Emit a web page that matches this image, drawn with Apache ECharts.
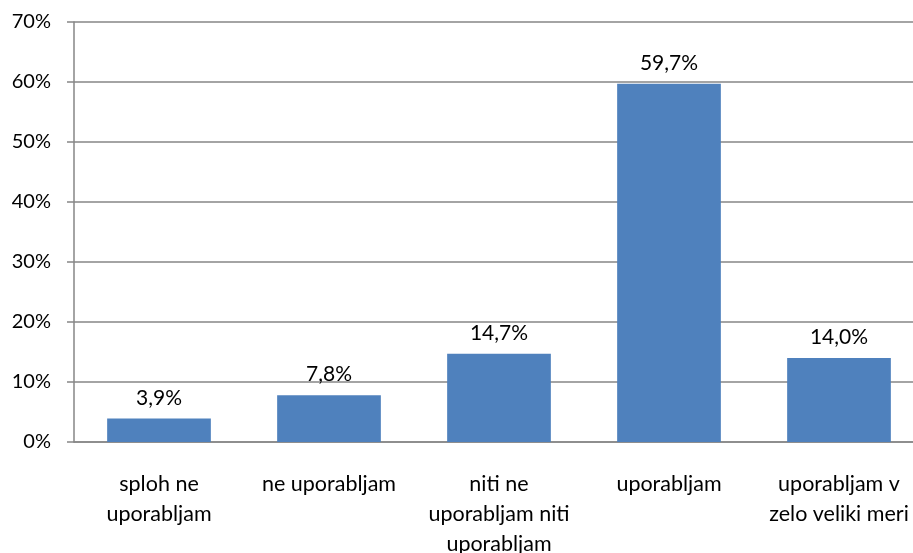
<!DOCTYPE html>
<html>
<head>
<meta charset="utf-8">
<script src="https://cdn.jsdelivr.net/npm/echarts@6/dist/echarts.min.js"></script>
<style>
html,body{margin:0;padding:0;background:#fff;}
#chart{width:913px;height:553px;}
</style>
</head>
<body>
<div id="chart"></div>
<script>
var categories = ['sploh ne\nuporabljam', 'ne uporabljam', 'niti ne\nuporabljam niti\nuporabljam', 'uporabljam', 'uporabljam v\nzelo veliki meri'];
var values = [3.9, 7.8, 14.7, 59.7, 14.0];
var yMax = 70;
var yStep = 10;

var myChart = echarts.init(document.getElementById('chart'));
var option = {
    animation: false,
    textStyle: { fontFamily: 'Lato' },
    grid: {
        left: 74,
        top: 22,
        right: -11,
        bottom: 111,
        containLabel: false,
        outerBoundsMode: 'none'
    },
    xAxis: {
        type: 'category',
        data: categories,
        axisLine: { lineStyle: { color: '#868686', width: 1.5 } },
        axisTick: { show: false },
        axisLabel: {
            interval: 0,
            margin: 27,
            color: '#000',
            fontSize: 21.5,
            lineHeight: 30,
            fontFamily: 'Lato'
        }
    },
    yAxis: {
        type: 'value',
        min: 0,
        max: yMax,
        interval: yStep,
        axisLine: { show: true, lineStyle: { color: '#868686', width: 1.5 } },
        axisTick: { show: true, length: 7, lineStyle: { color: '#868686', width: 1.5 } },
        splitLine: { show: true, lineStyle: { color: '#868686', width: 1.5 } },
        axisLabel: {
            formatter: '{value}%',
            margin: 23,
            color: '#000',
            fontSize: 20,
            fontFamily: 'Lato'
        }
    },
    series: [{
        type: 'bar',
        data: values,
        barWidth: '61%',
        itemStyle: { color: '#4F81BD' },
        label: {
            show: true,
            position: 'top',
            distance: 10,
            color: '#000',
            fontSize: 21,
            fontFamily: 'Lato',
            formatter: function (p) {
                return p.value.toFixed(1).replace('.', ',') + '%';
            }
        }
    }]
};
myChart.setOption(option);
</script>
</body>
</html>
